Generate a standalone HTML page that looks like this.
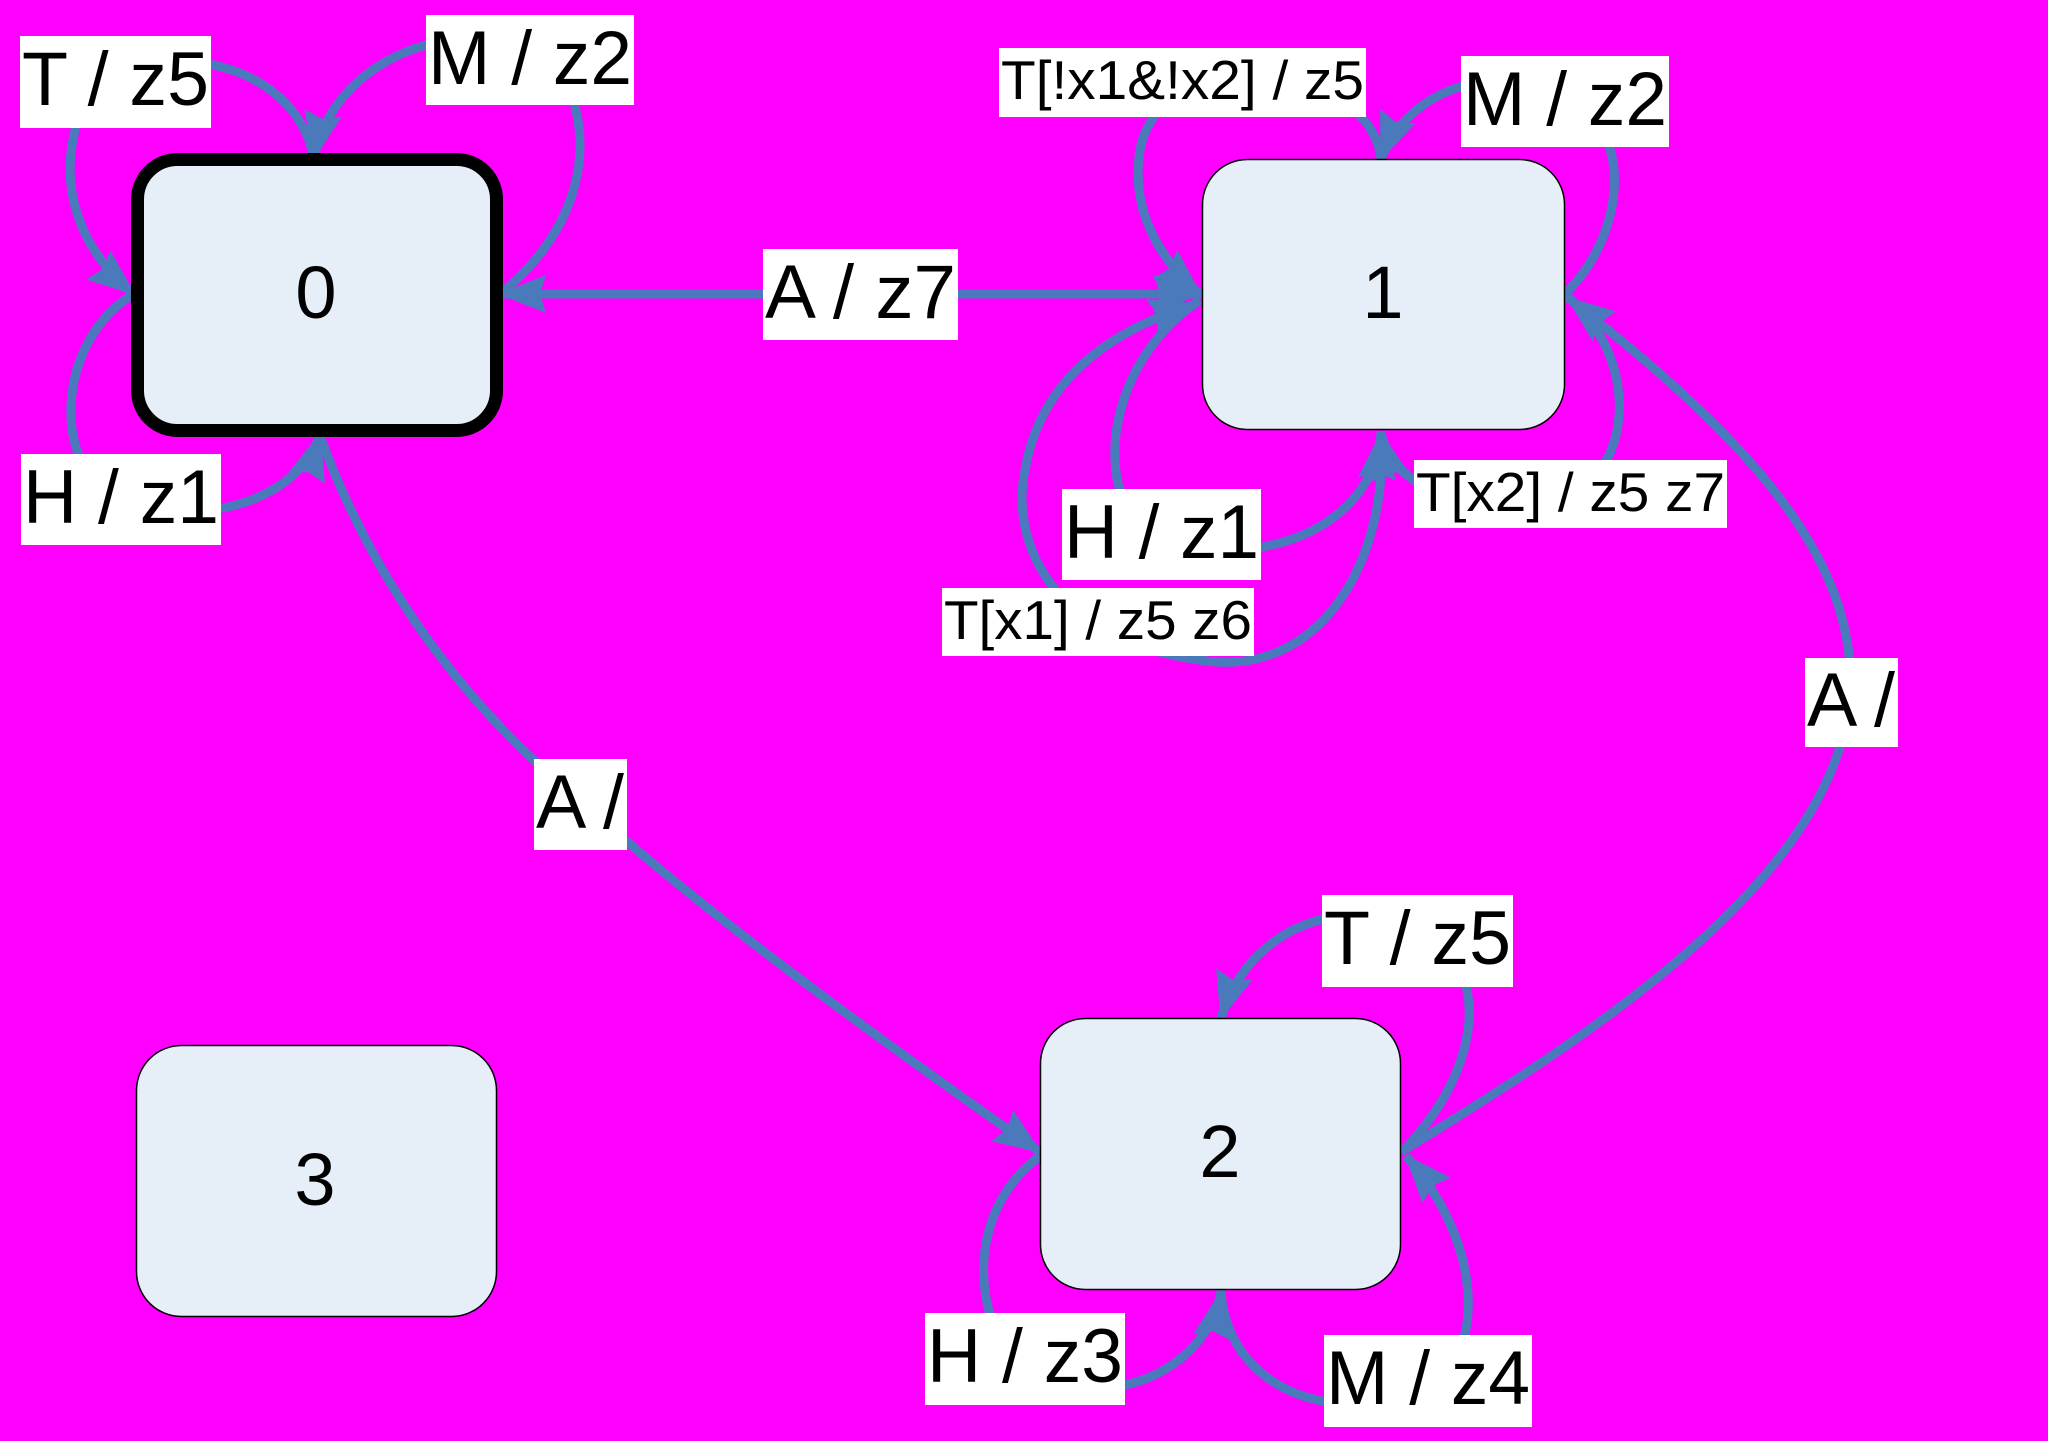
<!DOCTYPE html>
<html><head><meta charset="utf-8"><style>
html,body{margin:0;padding:0;background:#ff00ff;}
svg{display:block;}
text{font-family:"Liberation Sans",sans-serif;fill:#000;}
</style></head><body>
<svg width="2048" height="1441" viewBox="0 0 2048 1441" xmlns="http://www.w3.org/2000/svg">
<defs>
<marker id="ah" markerUnits="userSpaceOnUse" markerWidth="50" markerHeight="40" refX="46" refY="19" orient="auto">
<path d="M0,0 L48,19 L0,38 L6,19 z" fill="#4a7abc"/>
</marker>
</defs>
<rect width="2048" height="1441" fill="#ff00ff"/>
<g fill="none" stroke="#4a7abc" stroke-width="9" marker-end="url(#ah)">
<path d="M314 158 C290 40,100 30,75 130 C60 190,80 250,134 294"/>
<path d="M500 294 C580 230,600 140,560 70 C520 10,340 30,314 158"/>
<path d="M134 294 C55 340,50 470,120 500 C200 530,300 500,320 434"/>
<path d="M1202 294 L500 294"/>
<path d="M500 294 L1200 294"/>
<path d="M1381 159 C1370 60,1160 40,1140 150 C1130 210,1160 260,1200 294"/>
<path d="M1565 294 C1620 240,1625 160,1600 130 C1560 60,1420 60,1381 159"/>
<path d="M1200 300 C1110 360,1100 470,1130 510 C1180 580,1370 560,1381 433"/>
<path d="M1381 431 C1390 560,1320 680,1200 660 C1050 640,1010 540,1025 470 C1040 380,1110 330,1196 304"/>
<path d="M1565 294 C1630 350,1630 430,1600 470 C1560 520,1400 520,1381 433"/>
<path d="M1401 1152 C1600 1030,1830 880,1850 700 C1860 560,1750 440,1568 298"/>
<path d="M320 436 C380 600,480 720,580 800 C700 910,880 1040,1040 1152"/>
<path d="M1404 1150 C1470 1080,1480 1010,1460 970 C1420 890,1260 890,1221 1018"/>
<path d="M1040 1156 C980 1200,970 1280,1000 1340 C1040 1420,1200 1400,1221 1292"/>
<path d="M1221 1290 C1225 1370,1300 1420,1400 1400 C1490 1380,1490 1250,1406 1156"/>
</g>
<rect x="137.5" y="159.5" width="359" height="271" rx="40" fill="#e6eef8" stroke="#000" stroke-width="13"/>
<rect x="1202.5" y="159.5" width="362" height="270" rx="45" fill="#e6eef8" stroke="#000" stroke-width="1.5"/>
<rect x="1040.5" y="1018.5" width="360" height="271" rx="45" fill="#e6eef8" stroke="#000" stroke-width="1.5"/>
<rect x="136.5" y="1045.5" width="360" height="271" rx="45" fill="#e6eef8" stroke="#000" stroke-width="1.5"/>
<g font-size="74" text-anchor="middle">
<text x="316" y="318">0</text>
<text x="1383" y="318">1</text>
<text x="1220" y="1177">2</text>
<text x="315" y="1205">3</text>
</g>
<g fill="#fff">
<rect x="20" y="36" width="191" height="92"/>
<rect x="426" y="15" width="208" height="90"/>
<rect x="763" y="249" width="195" height="91"/>
<rect x="21" y="454" width="200" height="91"/>
<rect x="999" y="48" width="367" height="69"/>
<rect x="1461" y="56" width="208" height="91"/>
<rect x="1414" y="460" width="313" height="68"/>
<rect x="1062" y="489" width="199" height="91"/>
<rect x="942" y="588" width="312" height="68"/>
<rect x="1805" y="658" width="93" height="89"/>
<rect x="534" y="759" width="93" height="91"/>
<rect x="1322" y="895" width="191" height="92"/>
<rect x="925" y="1313" width="200" height="92"/>
<rect x="1324" y="1335" width="208" height="92"/>
</g>
<g font-size="76">
<text x="22" y="105" textLength="187" lengthAdjust="spacingAndGlyphs">T / z5</text>
<text x="428" y="84" textLength="204" lengthAdjust="spacingAndGlyphs">M / z2</text>
<text x="765" y="318" textLength="191" lengthAdjust="spacingAndGlyphs">A / z7</text>
<text x="23" y="523" textLength="196" lengthAdjust="spacingAndGlyphs">H / z1</text>
<text x="1463" y="125" textLength="204" lengthAdjust="spacingAndGlyphs">M / z2</text>
<text x="1064" y="558" textLength="195" lengthAdjust="spacingAndGlyphs">H / z1</text>
<text x="1807" y="726" textLength="88" lengthAdjust="spacingAndGlyphs">A /</text>
<text x="536" y="828" textLength="88" lengthAdjust="spacingAndGlyphs">A /</text>
<text x="1324" y="964" textLength="187" lengthAdjust="spacingAndGlyphs">T / z5</text>
<text x="927" y="1382" textLength="196" lengthAdjust="spacingAndGlyphs">H / z3</text>
<text x="1326" y="1404" textLength="204" lengthAdjust="spacingAndGlyphs">M / z4</text>
</g>
<g font-size="55">
<text x="1001" y="99" textLength="363" lengthAdjust="spacingAndGlyphs">T[!x1&amp;!x2] / z5</text>
<text x="1416" y="511" textLength="309" lengthAdjust="spacingAndGlyphs">T[x2] / z5 z7</text>
<text x="944" y="639" textLength="308" lengthAdjust="spacingAndGlyphs">T[x1] / z5 z6</text>
</g>
</svg>
</body></html>
